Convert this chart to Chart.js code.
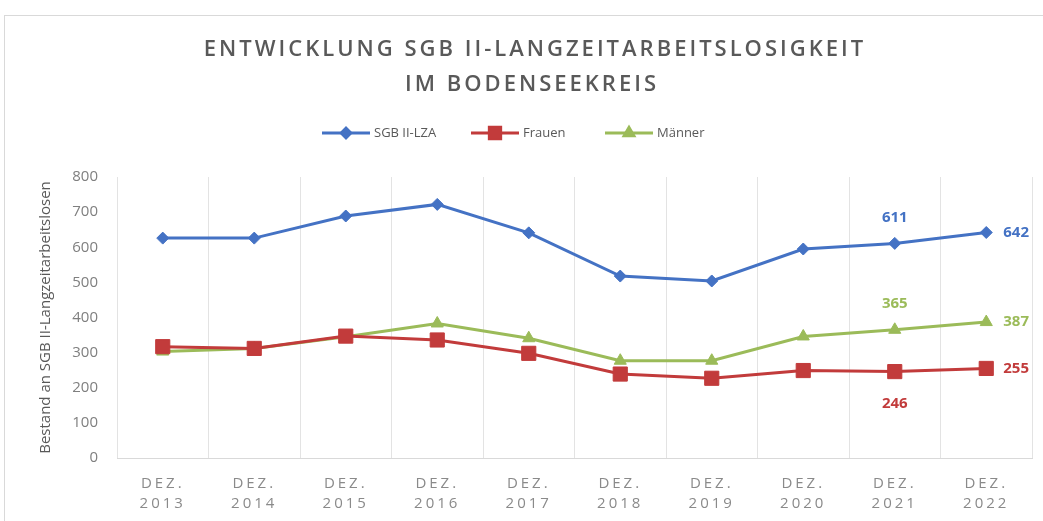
<!DOCTYPE html>
<html>
<head>
<meta charset="utf-8">
<script src="https://cdn.jsdelivr.net/npm/chart.js@4/dist/chart.umd.min.js"></script>
<style>
  body { margin: 0; background: #fff; }
  #frame { position: absolute; left: 4px; top: 15px; width: 1100px; height: 600px; border: 1px solid #d9d9d9; }
  #wrap { position: absolute; left: 0; top: 0; width: 1043px; height: 521px; }
</style>
</head>
<body>
<div id="frame"></div>
<div id="wrap"><canvas id="lzaChart" width="1043" height="521"></canvas></div>
<script>
// Entwicklung SGB II-Langzeitarbeitslosigkeit im Bodenseekreis

const years = ['2013', '2014', '2015', '2016', '2017', '2018', '2019', '2020', '2021', '2022']
const tick_labels = years.map(y => ['DEZ.', y])

const lza_values = [626, 626, 689, 722, 641, 518, 504, 595, 611, 642]
const frauen_values = [317, 312, 347, 336, 298, 239, 227, 249, 246, 255]
const maenner_values = [303, 312, 345, 383, 341, 277, 277, 346, 365, 387]

// only the last two years carry a value label
const labelled_points = [8, 9]

const title_lines = ['ENTWICKLUNG SGB II-LANGZEITARBEITSLOSIGKEIT', 'IM BODENSEEKREIS']
const y_title = 'Bestand an SGB II-Langzeitarbeitslosen'

const blue = '#4472c4'
const red = '#c23b3b'
const green = '#9bbb59'
const font_family = '"Open Sans", "DejaVu Sans", sans-serif'

// title + legend drawn on the canvas (legend shows line with marker like Excel)
const headerPlugin = {
  id: 'header',
  afterDraw(chart) {
    const ctx = chart.ctx
    ctx.save()
    ctx.fillStyle = '#595959'
    ctx.textAlign = 'center'
    ctx.textBaseline = 'middle'
    ctx.font = '600 22px ' + font_family
    ctx.letterSpacing = '3px'
    ctx.fillText(title_lines[0], 535, 50)
    ctx.fillText(title_lines[1], 532, 85)
    ctx.letterSpacing = '0px'

    ctx.font = '13px ' + font_family
    ctx.textAlign = 'left'
    chart.data.datasets.forEach((ds, i) => {
      const x = ds.legendX
      const y = 133
      ctx.strokeStyle = ds.borderColor
      ctx.lineWidth = 3
      ctx.beginPath()
      ctx.moveTo(x, y)
      ctx.lineTo(x + 48, y)
      ctx.stroke()
      Chart.helpers.drawPoint(ctx, {
        pointStyle: ds.pointStyle,
        radius: ds.pointRadius * 0.8,
        borderWidth: 1
      }, x + 24, y)
      ctx.fillStyle = ds.borderColor
      ctx.fill()
      ctx.fillStyle = '#595959'
      ctx.fillText(ds.label, x + 52, y)
    })
    ctx.restore()
  }
}

// bold value labels for 2021 and 2022
const valueLabels = {
  id: 'valueLabels',
  afterDatasetsDraw(chart) {
    const ctx = chart.ctx
    ctx.save()
    ctx.font = 'bold 15px ' + font_family
    chart.data.datasets.forEach((ds, i) => {
      const meta = chart.getDatasetMeta(i)
      labelled_points.forEach((idx, n) => {
        const pt = meta.data[idx]
        const pos = ds.labelPos[n]
        ctx.fillStyle = ds.borderColor
        ctx.textBaseline = 'middle'
        if (pos === 'right') {
          ctx.textAlign = 'left'
          ctx.fillText(ds.data[idx], pt.x + 17, pt.y)
        } else if (pos === 'top') {
          ctx.textAlign = 'center'
          ctx.fillText(ds.data[idx], pt.x, pt.y - 26)
        } else {
          ctx.textAlign = 'center'
          ctx.fillText(ds.data[idx], pt.x, pt.y + 32)
        }
      })
    })
    ctx.restore()
  }
}

// letter spaced x labels ("D E Z .")
const spacedTicks = {
  id: 'spacedTicks',
  beforeDraw(chart) {
    const sx = chart.scales.x
    if (sx._spaced) return
    const orig = sx.drawLabels
    sx.drawLabels = function (area) {
      this.ctx.save()
      this.ctx.letterSpacing = '3px'
      orig.call(this, area)
      this.ctx.restore()
    }
    sx._spaced = true
  }
}

const ctx = document.getElementById('lzaChart').getContext('2d')

const chart = new Chart(ctx, {
  type: 'line',
  data: {
    labels: tick_labels,
    datasets: [
      {
        label: 'SGB II-LZA',
        data: lza_values,
        borderColor: blue,
        backgroundColor: blue,
        pointStyle: 'rectRot',
        pointRadius: 6,
        labelPos: ['top', 'right'],
        legendX: 322
      },
      {
        label: 'Frauen',
        data: frauen_values,
        borderColor: red,
        backgroundColor: red,
        pointStyle: 'rect',
        pointRadius: 10,
        labelPos: ['bottom', 'right'],
        legendX: 471
      },
      {
        label: 'Männer',
        data: maenner_values,
        borderColor: green,
        backgroundColor: green,
        pointStyle: 'triangle',
        pointRadius: 7,
        labelPos: ['top', 'right'],
        legendX: 605
      }
    ]
  },
  options: {
    responsive: false,
    animation: false,
    layout: {
      padding: { top: 177, left: 10, right: 9, bottom: 0 }
    },
    elements: {
      line: { borderWidth: 3, tension: 0 },
      point: { borderWidth: 1, hoverRadius: 6 }
    },
    plugins: {
      legend: { display: false },
      title: { display: false },
      tooltip: { enabled: false }
    },
    scales: {
      x: {
        offset: true,
        grid: { display: true, offset: true, color: '#e3e3e3', drawTicks: false },
        border: { display: true, color: '#d9d9d9' },
        ticks: {
          color: '#8a8a8a',
          padding: 16,
          maxRotation: 0,
          font: { family: font_family, size: 15, lineHeight: 1.33 }
        },
        afterFit(s) { s.height = 63 }
      },
      y: {
        min: 0,
        max: 800,
        grid: { display: false, drawTicks: false },
        border: { display: false },
        ticks: {
          stepSize: 100,
          color: '#7f7f7f',
          padding: 19,
          font: { family: font_family, size: 15 }
        },
        title: {
          display: true,
          text: y_title,
          color: '#595959',
          padding: { top: 27, bottom: 0 },
          font: { family: font_family, size: 15, lineHeight: 1.2 }
        },
        afterFit(s) { s.width = 107 }
      }
    }
  },
  plugins: [headerPlugin, valueLabels, spacedTicks]
})
chart.draw()
</script>
</body>
</html>
